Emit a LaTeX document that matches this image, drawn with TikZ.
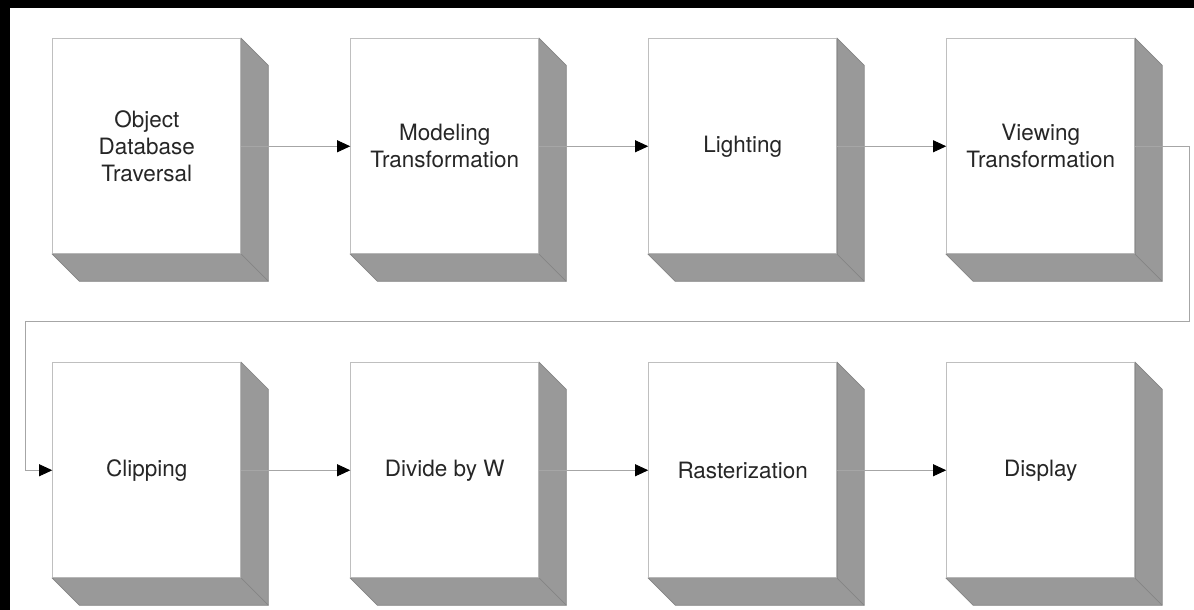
\documentclass[tikz,border=0pt]{standalone}
\usepackage{fontspec}
\setmainfont{TeX Gyre Heros}
\usepackage{tikz}
\usetikzlibrary{matrix}
\usetikzlibrary{arrows.meta,positioning}

\tikzset{
    stage/.style={draw=black!25, line width=0.7pt, fill=white, minimum width=4.7cm, minimum height=5.375cm,
        inner sep=0pt, align=center, text=black!85, font=\fontsize{16}{19}\selectfont},
    depth/.style={fill=black!40, draw=black!48, line width=0.5pt},
    flow/.style={draw=black!35, line width=0.6pt, -{Triangle[length=3.3mm,width=3mm,color=black]}}
}

\begin{document}
\begin{tikzpicture}
    \useasboundingbox (0,0) rectangle (29.85,-15.25);
    \fill[black] (0,0) rectangle (29.85,-0.2);
    \fill[black] (0,0) rectangle (0.25,-15.25);

    \matrix (pipeline) [anchor=north west, inner sep=0pt, column sep=2.725cm, row sep=2.7cm, nodes=stage] at (1.3,-0.95) {
        \node (object) {Object\\Database\\Traversal}; & \node (modeling) {Modeling\\Transformation}; & \node (lighting) {Lighting}; & \node (viewing) {Viewing\\Transformation}; \\
        \node (clipping) {Clipping}; & \node (divide) {Divide by W}; & \node (raster) {Rasterization}; & \node (display) {Display}; \\
    };

    % box depth
    \foreach \n in {object,modeling,lighting,viewing,clipping,divide,raster,display} {
        \filldraw[depth] (\n.north east) -- ++(0.675,-0.675) |- ([shift={(0.675,-0.675)}]\n.south west)
            -- (\n.south west) -- (\n.south east) -- cycle;
        \draw[depth] (\n.south east) -- ++(0.675,-0.675);
    }

    \foreach \a/\b in {object/modeling,modeling/lighting,lighting/viewing,clipping/divide,divide/raster,raster/display}
        \draw[flow] (\a.east) -- (\b.west);

    \coordinate (turn) at (0.625,-8.025);
    \draw[flow] (viewing.east) -- ++(1.35,0) |- (turn) |- (clipping.west);
\end{tikzpicture}
\end{document}
